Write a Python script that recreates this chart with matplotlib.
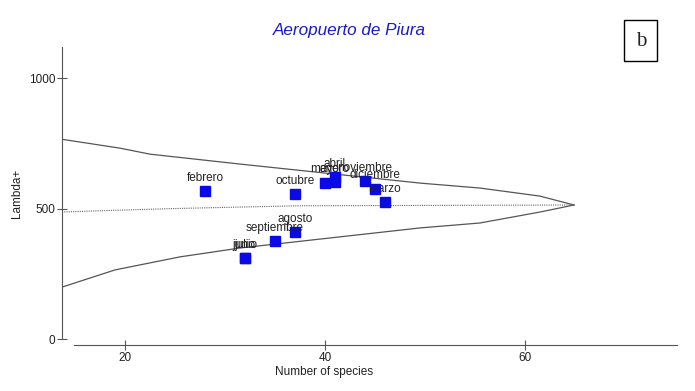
import matplotlib
matplotlib.use("Agg")
import matplotlib.pyplot as plt
from matplotlib.patches import Rectangle

plt.rcParams['font.family'] = ['Liberation Sans', 'DejaVu Sans']

# Data
months = ["febrero", "octubre", "mayo", "abril", "enero", "noviembre",
          "diciembre", "marzo", "agosto", "septiembre", "junio", "julio"]
species = [28, 37, 40, 41, 41, 44, 45, 46, 37, 35, 32, 32]
lambda_plus = [568, 556, 600, 622, 603, 607, 577, 524, 411, 377, 309, 309]

upper_x = [13.7, 19.5, 22.5, 31.5, 49.5, 55.5, 61.5, 64.9]
upper_y = [766, 732, 709, 671, 598, 579, 548, 514]
lower_x = [13.7, 19.0, 25.5, 31.5, 49.5, 55.5, 61.5, 64.9]
lower_y = [199, 265, 315, 349, 426, 445, 487, 514]
mean_x = [13.7, 18.5, 24.5, 31.5, 37.5, 64.9]
mean_y = [487, 493, 500, 506, 511, 514]

xticks = [20, 40, 60]
yticks = [0, 500, 1000]

W, H = 695, 391
fig = plt.figure(figsize=(W / 100, H / 100), dpi=100)
ax = fig.add_axes([62 / W, (H - 339) / H, (677 - 62) / W, (339 - 47) / H])
ax.set_xlim(13.7, 75.2)
ax.set_ylim(0, 1120)

line_c = '#555555'
ax.plot(upper_x, upper_y, color=line_c, lw=0.9)
ax.plot(lower_x, lower_y, color=line_c, lw=0.9)
ax.plot(mean_x, mean_y, color='#666666', lw=0.8, ls=(0, (1, 1)))

ax.plot(species, lambda_plus, ls='none', marker='s', ms=6.5,
        color='#0a0ae6', mec='#0a0ae6')
for m, x, y in zip(months, species, lambda_plus):
    ax.annotate(m, (x, y), xytext=(0, 9.5), textcoords='offset points',
                ha='center', va='center', fontsize=8.5, color='#222222')

for s in ['top', 'right']:
    ax.spines[s].set_visible(False)
ax.spines['left'].set_bounds(0, 1120)
ax.spines['left'].set_color('#555555')
ax.spines['bottom'].set_position(('outward', 4.3))
ax.spines['bottom'].set_bounds(14.9, 75.2)
ax.spines['bottom'].set_color('#555555')

ax.set_xticks(xticks)
ax.set_yticks(yticks)
ax.tick_params(axis='y', direction='inout', length=7.2, width=0.8,
               color='#555555', labelsize=8.5, pad=1, labelcolor='#222222')
ax.tick_params(axis='x', direction='inout', length=7.5, width=0.8,
               color='#555555', labelsize=8.5, pad=1, labelcolor='#222222')

fig.text(324 / W, 1 - 372 / H, 'Number of species', ha='center', va='center',
         fontsize=8.5, color='#222222')
fig.text(17 / W, 1 - 193 / H, 'Lambda+', ha='center', va='center',
         rotation=90, fontsize=8.5, color='#222222')

fig.text(349 / W, 1 - 30 / H, 'Aeropuerto de Piura', ha='center', va='center',
         fontsize=12.3, style='italic', color='#1a1acc')

fig.patches.append(Rectangle((624 / W, 1 - 61 / H), 33 / W, 41 / H,
                             transform=fig.transFigure, fill=False,
                             edgecolor='black', lw=1.0))
fig.text(641 / W, 1 - 41 / H, 'b', ha='center', va='center',
         fontsize=15, family=['Liberation Serif', 'DejaVu Serif'], color='#222222')

fig.savefig('out.png', dpi=100)
